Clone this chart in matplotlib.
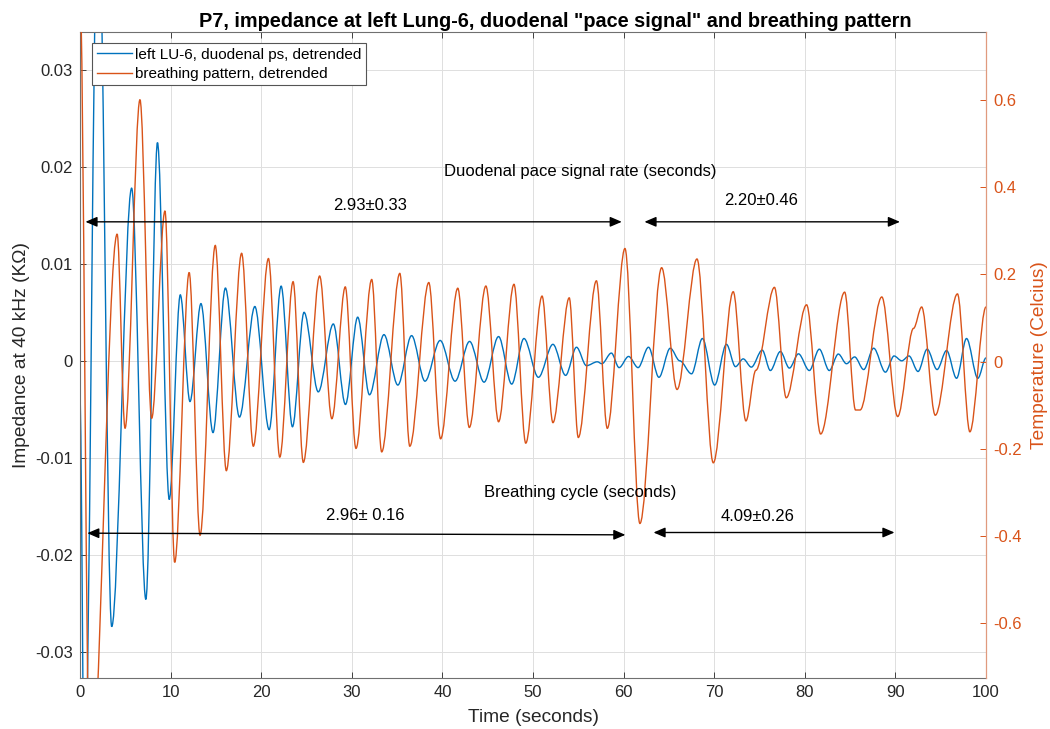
import matplotlib
matplotlib.use("Agg")
import matplotlib.pyplot as plt
from matplotlib.path import Path
from matplotlib.patches import PathPatch
from matplotlib.lines import Line2D

plt.rcParams['font.family'] = ['Liberation Sans', 'DejaVu Sans']
plt.rcParams['axes.unicode_minus'] = False

BLUE = '#0072BD'
ORANGE = '#D95319'
DARK = '#262626'

# extrema of the impedance trace (s, KOhm)
blue_t = [0, 0.5, 2.0, 3.5, 5.7, 7.27, 8.55, 9.85, 11.07, 12.14, 13.35, 14.68, 16.05, 17.6,
          19.3, 20.88, 22.2, 23.45, 24.73, 26.3, 27.96, 29.3, 30.65, 31.95, 33.55, 35.08,
          36.6, 38.08, 39.75, 41.4, 43.0, 44.6, 46.2, 47.65, 49.0, 50.6, 52.2, 53.6, 54.8,
          55.9, 57.1, 57.6, 58.65, 59.5, 60.55, 61.6, 62.75, 63.9, 65.15, 66.2, 67.5, 68.7,
          70.05, 71.35, 72.35, 73.2, 74.1, 75.3, 76.2, 77.3, 78.3, 79.3, 80.5, 81.6, 82.7,
          83.7, 84.6, 85.5, 86.5, 87.6, 88.9, 89.85, 90.7, 91.5, 92.5, 93.5, 94.6, 95.65,
          96.75, 97.85, 99.1, 100.0]
blue_v = [-0.004, -0.045, 0.05, -0.0274, 0.0178, -0.0246, 0.0225, -0.0143, 0.0068, -0.0042,
          0.0059, -0.0074, 0.0075, -0.0058, 0.0056, -0.0071, 0.0077, -0.0068, 0.0050, -0.0032,
          0.0038, -0.0045, 0.0045, -0.0035, 0.0027, -0.0025, 0.0026, -0.0021, 0.0021, -0.0021,
          0.0020, -0.0022, 0.0025, -0.0024, 0.0023, -0.0017, 0.0017, -0.0015, 0.0014, -0.0005,
          -0.0001, -0.0003, 0.0008, -0.0007, 0.00045, -0.0007, 0.0014, -0.0017, 0.0013, 0.0,
          -0.00134, 0.0023, -0.0025, 0.0017, -0.0006, 0.0002, -0.00065, 0.0011, -0.0010,
          0.00096, -0.00075, 0.00072, -0.0010, 0.0012, -0.0010, 0.0007, -0.0003, 0.0004,
          -0.0009, 0.0013, -0.00117, 0.0005, 0.0, 0.0005, -0.0011, 0.0012, -0.0009, 0.00106,
          -0.0018, 0.0023, -0.0018, 0.0003]

# extrema of the breathing trace (s, Celcius)
orange_t = [0, 1.1, 4.1, 4.97, 6.62, 7.91, 9.38, 10.45, 12.05, 13.25, 14.93, 16.15, 17.84,
            19.13, 20.8, 22.05, 23.52, 24.65, 26.45, 27.8, 29.28, 30.46, 32.2, 33.3, 35.3,
            36.4, 38.5, 39.8, 41.7, 42.97, 44.8, 46.2, 47.9, 49.2, 51.0, 52.2, 54.0, 55.0,
            57.0, 58.2, 60.15, 61.8, 64.2, 65.9, 68.1, 69.9, 72.1, 73.5, 74.6, 76.65, 77.95,
            80.2, 81.75, 84.4, 85.6, 86.1, 88.5, 90.25, 92.0, 92.9, 94.4, 96.85, 98.22, 100.0]
orange_v = [0.85, -1.0, 0.292, -0.153, 0.60, -0.13, 0.345, -0.46, 0.204, -0.398, 0.266,
            -0.25, 0.248, -0.194, 0.236, -0.219, 0.183, -0.231, 0.196, -0.131, 0.171, -0.199,
            0.188, -0.207, 0.202, -0.194, 0.181, -0.177, 0.168, -0.151, 0.173, -0.138, 0.177,
            -0.187, 0.150, -0.140, 0.146, -0.174, 0.185, -0.153, 0.259, -0.371, 0.215, -0.064,
            0.235, -0.232, 0.160, -0.136, -0.02, 0.170, -0.083, 0.130, -0.166, 0.159, -0.111,
            -0.111, 0.148, -0.126, 0.076, 0.125, -0.123, 0.155, -0.161, 0.125]

# annotations (time, impedance axis units)
arrows = [(0.6, 59.8, 0.01433, 0.01433), (62.3, 90.5, 0.01433, 0.01433),
          (0.8, 60.2, -0.01777, -0.01794), (63.3, 89.9, -0.0177, -0.0177)]
notes = [('Duodenal pace signal rate (seconds)', 55.2, 0.0195),
         ('2.93\u00b10.33', 32.0, 0.0160),
         ('2.20\u00b10.46', 75.2, 0.0165),
         ('Breathing cycle (seconds)', 55.2, -0.0136),
         ('2.96\u00b1 0.16', 31.5, -0.0159),
         ('4.09\u00b10.26', 74.8, -0.0160)]

left_ticks = [-0.03, -0.02, -0.01, 0, 0.01, 0.02, 0.03]
left_labels = ['-0.03', '-0.02', '-0.01', '0', '0.01', '0.02', '0.03']
right_ticks = [-0.6, -0.4, -0.2, 0, 0.2, 0.4, 0.6]
right_labels = ['-0.6', '-0.4', '-0.2', '0', '0.2', '0.4', '0.6']
x_ticks = list(range(0, 101, 10))


def smooth_path(ts, vs):
    # cubic bezier through the extrema, flat tangent at each one
    verts = [(ts[0], vs[0])]
    codes = [Path.MOVETO]
    for i in range(1, len(ts)):
        dt = ts[i] - ts[i - 1]
        verts += [(ts[i - 1] + dt / 3, vs[i - 1]), (ts[i] - dt / 3, vs[i]), (ts[i], vs[i])]
        codes += [Path.CURVE4] * 3
    return Path(verts, codes)


fig = plt.figure(figsize=(10.5, 7.29), dpi=100)
ax = fig.add_axes([80 / 1050, 1 - 678 / 729, 906 / 1050, 646 / 729])
ax2 = ax.twinx()

ax.set_xlim(0, 100)
ax.set_ylim(-0.0327, 0.0339)
ax2.set_ylim(-0.725, 0.755)

ax.add_patch(PathPatch(smooth_path(blue_t, blue_v), facecolor='none', edgecolor=BLUE, lw=1.0))
ax2.add_patch(PathPatch(smooth_path(orange_t, orange_v), facecolor='none', edgecolor=ORANGE, lw=1.0))

ax.set_xticks(x_ticks)
ax.set_yticks(left_ticks)
ax.set_yticklabels(left_labels)
ax2.set_yticks(right_ticks)
ax2.set_yticklabels(right_labels)

ax.grid(True, color='#dfdfdf', lw=0.7)
ax.set_axisbelow(True)
ax.tick_params(axis='both', direction='in', length=4, width=0.7, colors='#404040',
               labelcolor=DARK, labelsize=12, pad=5, top=True)
ax.tick_params(axis='x', pad=5)
ax2.tick_params(axis='y', direction='in', length=4, width=0.7, colors=ORANGE,
                labelcolor=ORANGE, labelsize=12, pad=5)
for s in ['left', 'top', 'bottom']:
    ax.spines[s].set_color('#707070')
    ax.spines[s].set_linewidth(0.8)
for s in ['left', 'top', 'bottom']:
    ax2.spines[s].set_visible(False)
ax2.spines['right'].set_color('#E09A7E')
ax2.spines['right'].set_linewidth(0.9)
ax.spines['right'].set_visible(False)

for x0, x1, y0, y1 in arrows:
    ax2.annotate('', xy=(x1, y1), xytext=(x0, y0), xycoords=ax.transData, textcoords=ax.transData,
                 arrowprops=dict(arrowstyle='<|-|>,head_length=0.7,head_width=0.3', color='black',
                                 lw=1.0, shrinkA=0, shrinkB=0))
for txt, x, y in notes:
    ax2.text(x, y, txt, transform=ax.transData, ha='center', va='center', fontsize=12, color='black')

handles = [Line2D([], [], color=BLUE, lw=1.0), Line2D([], [], color=ORANGE, lw=1.0)]
leg = ax2.legend(handles, ['left LU-6, duodenal ps, detrended', 'breathing pattern, detrended'],
                 loc='upper left', bbox_to_anchor=(0.0132, 0.983), borderaxespad=0, fontsize=11,
                 fancybox=False, framealpha=1, edgecolor='#555555', handlelength=2.3,
                 handletextpad=0.2, labelspacing=0.35, borderpad=0.3)
leg.get_frame().set_linewidth(0.8)

fig.text(555 / 1050, 1 - 27 / 729, 'P7, impedance at left Lung-6, duodenal "pace signal" and breathing pattern',
         ha='center', va='baseline', fontsize=14.3, fontweight='bold', color='black')
fig.text(22 / 1050, 1 - 355 / 729, 'Impedance at 40 kHz (K\u03a9)', rotation=90, ha='center', va='center',
         fontsize=13.8, color=DARK)
fig.text(1040 / 1050, 1 - 355 / 729, 'Temperature (Celcius)', rotation=90, ha='center', va='center',
         fontsize=13.8, color=ORANGE)
fig.text(533 / 1050, 1 - 718 / 729, 'Time (seconds)', ha='center', va='center', fontsize=13.8, color=DARK)

fig.savefig('out.png', dpi=100, facecolor='white')
